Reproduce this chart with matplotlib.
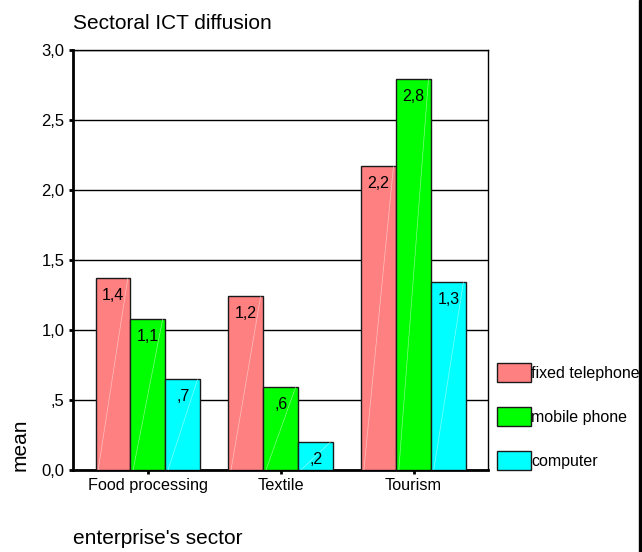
import numpy as np
import matplotlib.pyplot as plt
from matplotlib.patches import Rectangle

plt.rcParams['font.family'] = ['Liberation Sans', 'DejaVu Sans']

sectors = ["Food processing", "Textile", "Tourism"]
series = ["fixed telephone", "mobile phone", "computer"]
fixed_tel = [1.37, 1.24, 2.17]
mobile = [1.08, 0.59, 2.79]
computer = [0.65, 0.20, 1.34]
labels = [["1,4", "1,2", "2,2"], ["1,1", ",6", "2,8"], [",7", ",2", "1,3"]]
colors = ["#ff8080", "#00ff00", "#00ffff"]
yticks = [0.0, 0.5, 1.0, 1.5, 2.0, 2.5, 3.0]
ytick_labels = ["0,0", ",5", "1,0", "1,5", "2,0", "2,5", "3,0"]

fig = plt.figure(figsize=(6.42, 5.52), dpi=100)
ax = fig.add_axes([73/642, 82/552, 415/642, 420/552])

x = np.arange(len(sectors))
w = 0.263
handles = []
for k, vals in enumerate([fixed_tel, mobile, computer]):
    pos = x + (k - 1) * w
    bars = ax.bar(pos, vals, width=w, color=colors[k], edgecolor="#1a1a1a",
                  linewidth=1.0, zorder=3, label=series[k])
    handles.append(bars)
    for b, v, t in zip(bars, vals, labels[k]):
        # faint diagonal streak across each bar
        x0 = b.get_x()
        ax.plot([x0 + 0.02, x0 + b.get_width() - 0.02], [0, v], color="white",
                lw=0.5, alpha=0.5, zorder=4)
        ax.text(b.get_x() + b.get_width()/2, v - 0.07, t, ha="center", va="top",
                fontsize=11.5, zorder=5)

ax.set_xlim(-0.564, 2.56)
ax.set_ylim(0, 3.0)
ax.set_yticks(yticks)
ax.set_yticklabels(ytick_labels, fontsize=12)
ax.set_xticks(x)
ax.set_xticklabels(sectors, fontsize=11.7)
ax.yaxis.grid(True, color="black", linewidth=1.0, zorder=0)
ax.set_axisbelow(True)
for s in ax.spines.values():
    s.set_linewidth(1.0)
ax.spines["left"].set_linewidth(2.0)
ax.spines["bottom"].set_linewidth(2.0)
ax.tick_params(axis="both", length=3, width=2, pad=3)

ax.text(0, 1.04, "Sectoral ICT diffusion", transform=ax.transAxes, fontsize=15,
        ha="left", va="bottom")
ax.set_ylabel("mean", fontsize=15)
ax.yaxis.set_label_coords(-0.104, 0.06)
ax.set_xlabel("enterprise's sector", fontsize=15, ha="left")
ax.xaxis.set_label_coords(0, -0.14)

ax.legend(handles=handles, loc="lower left", bbox_to_anchor=(497/642, 82/552),
          bbox_transform=fig.transFigure, frameon=False, fontsize=11.5,
          handlelength=2.1, handleheight=1.45, handletextpad=0.05,
          labelspacing=1.57, borderaxespad=0, borderpad=0)

# right border strip
fig.patches.append(Rectangle((639/642, 0), 3/642, 1, transform=fig.transFigure,
                             color="black", zorder=10))

fig.savefig("out.png", dpi=100)
